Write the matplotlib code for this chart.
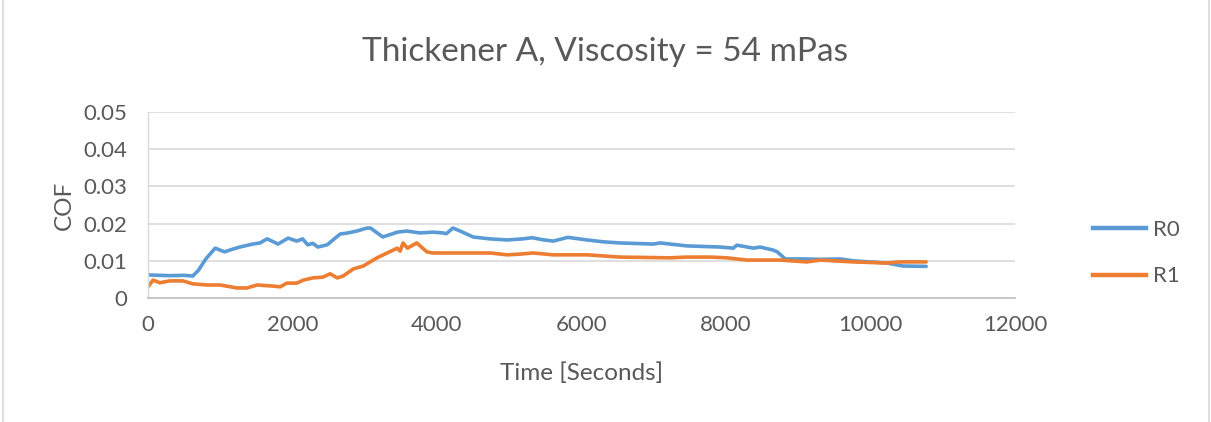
import matplotlib
matplotlib.use("Agg")
import matplotlib.pyplot as plt
from matplotlib.lines import Line2D

# R0
t_r0 = [0, 300, 500, 620, 700, 800, 930, 1060, 1150, 1270, 1450, 1550, 1650, 1800,
        1940, 2060, 2140, 2210, 2280, 2350, 2480, 2660, 2770, 2890, 3030, 3080,
        3250, 3450, 3580, 3760, 3950, 4080, 4130, 4220, 4320, 4500, 4730, 4970,
        5190, 5320, 5450, 5610, 5810, 6080, 6300, 6530, 6990, 7090, 7460, 7920,
        8100, 8150, 8380, 8470, 8650, 8710, 8820, 9070, 9300, 9580, 9760, 10230,
        10450, 10770]
cof_r0 = [0.0062, 0.0060, 0.0061, 0.0059, 0.0075, 0.0105, 0.0134, 0.0124, 0.0130,
          0.0137, 0.0145, 0.0148, 0.0159, 0.0145, 0.0161, 0.0153, 0.0159, 0.0143,
          0.0147, 0.0137, 0.0143, 0.0172, 0.0175, 0.0180, 0.0188, 0.0188, 0.0164,
          0.0177, 0.0180, 0.0175, 0.0177, 0.0175, 0.0173, 0.0188, 0.0180, 0.0164,
          0.0159, 0.0156, 0.0159, 0.0162, 0.0157, 0.0153, 0.0163, 0.0156, 0.0151,
          0.0148, 0.0145, 0.0148, 0.0140, 0.0137, 0.0134, 0.0142, 0.0134, 0.0137,
          0.0129, 0.0124, 0.0105, 0.0105, 0.0104, 0.0105, 0.0100, 0.0094, 0.0086,
          0.0085]

# R1
t_r1 = [0, 70, 165, 300, 485, 620, 820, 1000, 1230, 1370, 1510, 1730, 1830, 1920,
        2060, 2150, 2280, 2420, 2520, 2620, 2700, 2840, 2980, 3170, 3310, 3450,
        3490, 3530, 3590, 3720, 3860, 3940, 4280, 4740, 4970, 5150, 5330, 5610,
        6080, 6530, 7230, 7460, 7780, 8010, 8290, 8750, 9120, 9300, 9760, 10230,
        10410, 10770]
cof_r1 = [0.0030, 0.0048, 0.0041, 0.0046, 0.0046, 0.0038, 0.0035, 0.0035, 0.0027,
          0.0027, 0.0035, 0.0032, 0.0030, 0.0040, 0.0040, 0.0048, 0.0054, 0.0056,
          0.0065, 0.0054, 0.0059, 0.0078, 0.0086, 0.0108, 0.0121, 0.0134, 0.0126,
          0.0148, 0.0134, 0.0148, 0.0124, 0.0121, 0.0121, 0.0121, 0.0116, 0.0118,
          0.0121, 0.0116, 0.0116, 0.0110, 0.0108, 0.0110, 0.0110, 0.0108, 0.0102,
          0.0102, 0.0097, 0.0102, 0.0097, 0.0094, 0.0097, 0.0097]

x_ticks = [0, 2000, 4000, 6000, 8000, 10000, 12000]
y_ticks = [0, 0.01, 0.02, 0.03, 0.04, 0.05]
y_tick_labels = ["0", "0.01", "0.02", "0.03", "0.04", "0.05"]

plt.rcParams["font.family"] = ["Lato", "DejaVu Sans"]
siva = "#595959"
plava = "#5B9BD5"
narandzasta = "#ED7D31"

fig = plt.figure(figsize=(12.11, 4.22), dpi=100)
ax = fig.add_axes([148 / 1211, 1 - 298 / 422, (1015 - 148) / 1211, (298 - 112) / 422])

ax.plot(t_r0, cof_r0, color=plava, lw=2.6, label="R0", solid_capstyle="round")
ax.plot(t_r1, cof_r1, color=narandzasta, lw=2.6, label="R1", solid_capstyle="round")

ax.set_xlim(0, 12000)
ax.set_ylim(0, 0.05)
ax.set_xticks(x_ticks)
ax.set_yticks(y_ticks)
ax.set_yticklabels(y_tick_labels)
ax.tick_params(length=0, labelsize=16, labelcolor=siva)
ax.tick_params(axis="x", pad=12)
ax.tick_params(axis="y", pad=15)
ax.grid(axis="y", color="#D9D9D9", lw=1.2)
ax.set_axisbelow(True)
for s in ["top", "right"]:
    ax.spines[s].set_visible(False)
ax.spines["bottom"].set_color("#BFBFBF")
ax.spines["left"].set_color("#D9D9D9")
ax.spines["bottom"].set_linewidth(1.2)
ax.spines["left"].set_linewidth(1.0)

ax.set_xlabel("Time [Seconds]", fontsize=17.5, color=siva, labelpad=20)
ax.set_ylabel("COF", fontsize=17.5, color=siva, labelpad=6)
fig.text(0.5, 1 - 52 / 422, "Thickener A, Viscosity = 54 mPas", fontsize=24,
         color=siva, ha="center", va="center")

handles = [Line2D([], [], color=plava, lw=3.2), Line2D([], [], color=narandzasta, lw=3.2)]
fig.legend(handles, ["R0", "R1"], loc="center left",
           bbox_to_anchor=(1073 / 1211, 1 - 253 / 422), frameon=False,
           fontsize=16, labelcolor=siva, handlelength=2.4, handletextpad=0.3,
           labelspacing=1.2)

# okvir
fig.add_artist(Line2D([3 / 1211, 3 / 1211], [0, 1], color="#D9D9D9", lw=1.2))
fig.add_artist(Line2D([1209 / 1211, 1209 / 1211], [0, 1], color="#D9D9D9", lw=1.2))

fig.savefig("out.png", dpi=100)
